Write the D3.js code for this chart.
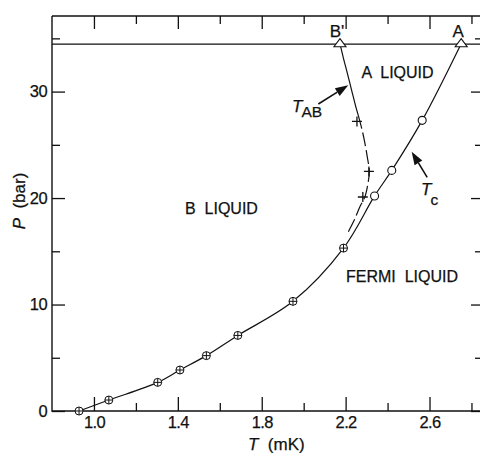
<!DOCTYPE html>
<html><head><meta charset="utf-8">
<script src="https://cdn.jsdelivr.net/npm/d3@7"></script>
<style>
body{margin:0;background:#fff}
svg{display:block;font-family:"Liberation Sans",Arial,sans-serif}
text{stroke:#111;stroke-width:0.25px}
</style></head><body>
<svg id="chart" width="480" height="453"></svg>
<script>
// Tc points, crossed circles
const tcCrossT = [0.929, 1.071, 1.304, 1.41, 1.536, 1.686, 1.949, 2.19];
const tcCrossP = [0, 1.03, 2.69, 3.85, 5.2, 7.1, 10.3, 15.3];
// Tc points, open circles
const tcOpenT = [2.338, 2.42, 2.565];
const tcOpenP = [20.2, 22.6, 27.3];
// T_AB points (plus marks)
const tabT = [2.254, 2.311, 2.282];
const tabP = [27.2, 22.5, 20.1];
// points on the melting line
const meltLabels = ["B'", "A"];
const meltT = [2.173, 2.751];
const meltP = [34.5, 34.5];
const meltLineP = 34.45;
// T_AB curve as drawn in the figure
const tabSolidT = [2.173, 2.19, 2.208, 2.229, 2.249, 2.26];
const tabSolidP = [34.5, 33.1, 31.74, 30.1, 28.54, 27.79];
const tabDashT = [2.26, 2.276, 2.289, 2.303, 2.313, 2.305, 2.292, 2.268, 2.243, 2.213];
const tabDashP = [27.79, 26.6, 25.45, 23.9, 22.47, 21.2, 20.12, 19.18, 18.0, 16.84];
const xMajor = [1.0, 1.4, 1.8, 2.2, 2.6];
const xMinor = [1.2, 1.6, 2.0, 2.4, 2.8];
const yMajor = [0, 10, 20, 30];
const yMinor = [5, 15, 25, 35];

const svg = d3.select("#chart");
const x = d3.scaleLinear().domain([0.8, 2.855]).range([52, 483]);
const y = d3.scaleLinear().domain([0, 37.1]).range([411, 16]);
const L = 52, R = 483, T = 16, B = 411;

const ax = svg.append("g");
function fmt(g) {
  g.select(".domain").remove();
  g.selectAll("line").attr("stroke", "#111").attr("stroke-width", 1.3);
  g.selectAll("text").attr("fill", "#111").attr("font-size", 16.5)
    .attr("letter-spacing", -0.6).attr("font-family", null);
}
ax.append("g").attr("transform", `translate(0,${B})`)
  .call(d3.axisBottom(x).tickValues(xMajor).tickSize(-14).tickPadding(5).tickFormat(d3.format(".1f"))).call(fmt);
ax.append("g").attr("transform", `translate(0,${B})`)
  .call(d3.axisBottom(x).tickValues(xMinor).tickSize(-8).tickFormat("")).call(fmt);
ax.append("g").attr("transform", `translate(0,${T})`)
  .call(d3.axisTop(x).tickValues(xMajor).tickSize(-13).tickFormat("")).call(fmt);
ax.append("g").attr("transform", `translate(0,${T})`)
  .call(d3.axisTop(x).tickValues(xMinor).tickSize(-8).tickFormat("")).call(fmt);
ax.append("g").attr("transform", `translate(${L},0)`)
  .call(d3.axisLeft(y).tickValues(yMajor).tickSize(-13).tickPadding(5).tickFormat(d3.format("d"))).call(fmt);
ax.append("g").attr("transform", `translate(${L},0)`)
  .call(d3.axisLeft(y).tickValues(yMinor).tickSize(-8).tickFormat("")).call(fmt);
ax.append("g").attr("transform", `translate(${R},0)`)
  .call(d3.axisRight(y).tickValues(yMajor).tickSize(-12).tickFormat("")).call(fmt);
ax.append("g").attr("transform", `translate(${R},0)`)
  .call(d3.axisRight(y).tickValues(yMinor).tickSize(-8).tickFormat("")).call(fmt);

// frame
svg.append("path").attr("d", `M${L},${T}H${R}M${L},${T}V${B}H${R}`)
  .attr("fill", "none").attr("stroke", "#111").attr("stroke-width", 1.4);
// melting line
svg.append("line").attr("x1", L).attr("x2", R).attr("y1", y(meltLineP)).attr("y2", y(meltLineP))
  .attr("stroke", "#111").attr("stroke-width", 1.3);

// Tc curve through all Tc points up to A
const tcT = tcCrossT.concat(tcOpenT, [meltT[1]]);
const tcP = tcCrossP.concat(tcOpenP, [meltP[1]]);
const line = d3.line().x(d => x(d[0])).y(d => y(d[1])).curve(d3.curveCatmullRom.alpha(0.5));
svg.append("path").attr("d", line(d3.zip(tcT, tcP)))
  .attr("fill", "none").attr("stroke", "#111").attr("stroke-width", 1.2);
svg.append("path").attr("d", line(d3.zip(tabSolidT, tabSolidP)))
  .attr("fill", "none").attr("stroke", "#111").attr("stroke-width", 1.2);
svg.append("path").attr("d", line(d3.zip(tabDashT, tabDashP)))
  .attr("fill", "none").attr("stroke", "#111").attr("stroke-width", 1.2)
  .attr("stroke-dasharray", "14,4");

// markers
const cross = svg.append("g").selectAll("g").data(d3.zip(tcCrossT, tcCrossP)).join("g")
  .attr("transform", d => `translate(${x(d[0])},${y(d[1])})`);
cross.append("circle").attr("r", 4).attr("fill", "#fff").attr("stroke", "#111").attr("stroke-width", 1);
cross.append("path").attr("d", "M-4,0H4M0,-4V4").attr("stroke", "#111").attr("stroke-width", 1);

svg.append("g").selectAll("circle").data(d3.zip(tcOpenT, tcOpenP)).join("circle")
  .attr("cx", d => x(d[0])).attr("cy", d => y(d[1])).attr("r", 4)
  .attr("fill", "#fff").attr("stroke", "#111").attr("stroke-width", 1.1);

svg.append("g").selectAll("path").data(d3.zip(tabT, tabP)).join("path")
  .attr("transform", d => `translate(${x(d[0])},${y(d[1])})`)
  .attr("d", "M-5,0H5M0,-5V5").attr("stroke", "#111").attr("stroke-width", 1.3);

svg.append("g").selectAll("path").data(d3.zip(meltT, meltP)).join("path")
  .attr("transform", d => `translate(${x(d[0])},${y(d[1])})`)
  .attr("d", "M0,-5L6,3L-6,3Z").attr("fill", "#fff").attr("stroke", "#111").attr("stroke-width", 1.1);

svg.append("g").selectAll("text").data(d3.zip(meltT, meltP, meltLabels)).join("text")
  .attr("x", d => x(d[0]) - 3).attr("y", d => y(d[1]) - 6.5)
  .attr("text-anchor", "middle").attr("font-size", 17).attr("fill", "#111")
  .text(d => d[2]);

// region labels
const lab = (t, p, s) => svg.append("text").attr("x", x(t)).attr("y", y(p))
  .attr("font-size", 16).attr("fill", "#111").attr("xml:space", "preserve").text(s);
lab(2.276, 31.3, "A  LIQUID");
lab(1.434, 18.5, "B  LIQUID");
lab(2.202, 12.1, "FERMI  LIQUID");

// arrows
function arrow(t0, p0, t1, p1) {
  const x0 = x(t0), y0 = y(p0), x1 = x(t1), y1 = y(p1);
  const a = Math.atan2(y1 - y0, x1 - x0);
  const len = 13, w = 4.5;
  const bx = x1 - len * Math.cos(a), by = y1 - len * Math.sin(a);
  svg.append("line").attr("x1", x0).attr("y1", y0).attr("x2", bx).attr("y2", by)
    .attr("stroke", "#111").attr("stroke-width", 1.6);
  svg.append("path").attr("d",
    `M${x1},${y1}L${bx + w * Math.sin(a)},${by - w * Math.cos(a)}L${bx - w * Math.sin(a)},${by + w * Math.cos(a)}Z`)
    .attr("fill", "#111");
}
arrow(2.07, 28.83, 2.2126, 30.6);
arrow(2.589, 21.94, 2.515, 24.35);

// curve labels
const tab = svg.append("text").attr("x", 292).attr("y", 112).attr("fill", "#111").attr("font-size", 17);
tab.append("tspan").attr("font-style", "italic").text("T");
tab.append("tspan").attr("dy", 5).attr("dx", -1).attr("font-size", 15.5).text("AB");
const tcl = svg.append("text").attr("x", 421).attr("y", 195).attr("fill", "#111").attr("font-size", 17);
tcl.append("tspan").attr("font-style", "italic").text("T");
tcl.append("tspan").attr("dy", 10).attr("dx", -1).attr("font-size", 15.5).text("c");

// axis titles
const xt = svg.append("text").attr("x", 248).attr("y", 450).attr("fill", "#111").attr("font-size", 17)
  .attr("xml:space", "preserve");
xt.append("tspan").attr("font-style", "italic").text("T");
xt.append("tspan").text("  (mK)");
const yt = svg.append("text").attr("transform", "translate(25,201) rotate(-90)")
  .attr("text-anchor", "middle").attr("fill", "#111").attr("font-size", 17).attr("xml:space", "preserve");
yt.append("tspan").attr("font-style", "italic").text("P");
yt.append("tspan").text("  (bar)");
</script>
</body></html>
